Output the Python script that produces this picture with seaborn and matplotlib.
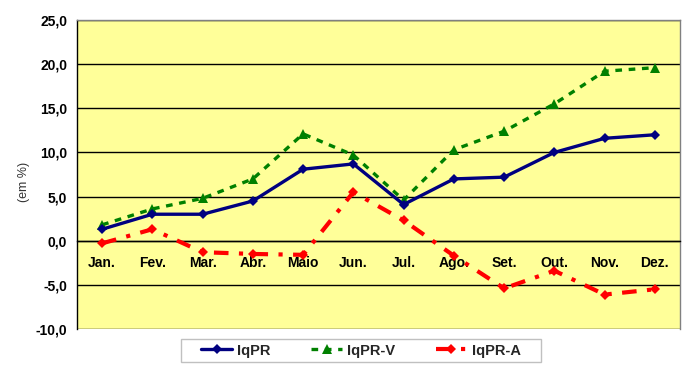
import matplotlib
matplotlib.use('Agg')
import matplotlib.pyplot as plt
import seaborn as sns
import pandas as pd
from matplotlib.ticker import FuncFormatter, FixedLocator, MultipleLocator
from matplotlib.patches import Rectangle

months = ['Jan.', 'Fev.', 'Mar.', 'Abr.', 'Maio', 'Jun.', 'Jul.', 'Ago.', 'Set.', 'Out.', 'Nov.', 'Dez.']
iqpr = [1.3, 3.0, 3.0, 4.5, 8.1, 8.7, 4.1, 7.0, 7.2, 10.0, 11.6, 12.0]
iqpr_v = [1.8, 3.6, 4.8, 7.0, 12.1, 9.7, 4.6, 10.3, 12.4, 15.5, 19.2, 19.6]
iqpr_a = [-0.3, 1.3, -1.3, -1.5, -1.6, 5.5, 2.3, -1.7, -5.4, -3.4, -6.1, -5.5]
series = ['IqPR', 'IqPR-V', 'IqPR-A']

df = pd.DataFrame({
    'Mês': months * 3,
    'Valor': iqpr + iqpr_v + iqpr_a,
    'Série': [series[0]] * 12 + [series[1]] * 12 + [series[2]] * 12,
})

sns.set_theme(style='white')
plt.rcParams['font.family'] = ['Liberation Sans', 'DejaVu Sans']

fig = plt.figure(figsize=(6.91, 3.71), dpi=100)
ax = fig.add_axes([77 / 691, 1 - 329 / 371, (680 - 77) / 691, (329 - 20) / 371])
ax.set_facecolor('#FFFF99')

palette = {'IqPR': '#000080', 'IqPR-V': '#008000', 'IqPR-A': '#FF0000'}
dashes = {'IqPR': '', 'IqPR-V': (2, 2), 'IqPR-A': (3.5, 2.5, 1, 2.5)}
markers = {'IqPR': 'D', 'IqPR-V': '^', 'IqPR-A': 'D'}

sns.lineplot(data=df, x='Mês', y='Valor', hue='Série', style='Série',
             palette=palette, dashes=dashes, markers=markers, ax=ax,
             sort=False, linewidth=2.2, markeredgewidth=0, legend=False)

handles = {}
for ln in ax.lines:
    c = matplotlib.colors.to_hex(ln.get_color()).upper()
    for s in series:
        if c == palette[s].upper():
            handles[s] = ln
            if s == 'IqPR':
                ln.set_markersize(5)
                ln.set_linewidth(2.4)
            elif s == 'IqPR-V':
                ln.set_markersize(7)
                ln.set_linewidth(2.4)
            else:
                ln.set_markersize(5.5)
                ln.set_linewidth(3)
            ln.set_zorder({'IqPR': 4, 'IqPR-V': 3, 'IqPR-A': 5}[s])

ax.set_xlim(-0.5, 11.5)
ax.set_ylim(-10, 25)
ax.yaxis.set_major_locator(MultipleLocator(5))
ax.yaxis.set_major_formatter(FuncFormatter(lambda v, p: f"{v:.1f}".replace('.', ',')))
ax.yaxis.grid(True, color='black', linewidth=1)
ax.set_axisbelow(True)

ax.spines['bottom'].set_position(('data', 0))
ax.spines['bottom'].set_color('black')
ax.spines['bottom'].set_linewidth(1)
ax.spines['left'].set_color('black')
ax.spines['left'].set_linewidth(1)
for sp in ['top', 'right']:
    ax.spines[sp].set_color('#808080')
    ax.spines[sp].set_linewidth(1)

ax.xaxis.set_minor_locator(FixedLocator([i - 0.5 for i in range(13)]))
ax.tick_params(axis='x', which='minor', length=4, width=1, color='black', direction='out')
ax.tick_params(axis='x', which='major', length=0, pad=11, labelsize=10, colors='black')
ax.tick_params(axis='y', which='major', length=0, left=False, pad=7, labelsize=10, colors='black')
for lab in ax.get_xticklabels() + ax.get_yticklabels():
    lab.set_fontweight('bold')
ax.set_xlabel('')
ax.set_ylabel('')

fig.text(24 / 691, 1 - 182 / 371, '(em %)', rotation=90, ha='center', va='center',
         fontsize=9, color='#333333')

fig.patches.append(Rectangle((181 / 691, 1 - 362 / 371), 360 / 691, 23 / 371,
                             transform=fig.transFigure, facecolor='white',
                             edgecolor='#C0C0C0', linewidth=1, zorder=0))
leg = fig.legend([handles[s] for s in series], series, loc='center',
                 bbox_to_anchor=(361 / 691, 1 - 350.5 / 371), ncol=3, frameon=False,
                 handlelength=2.1, columnspacing=2.8, handletextpad=0.35, borderpad=0.25,
                 prop={'size': 10.5, 'weight': 'bold'})

fig.savefig('out.png', dpi=100, facecolor='white')
